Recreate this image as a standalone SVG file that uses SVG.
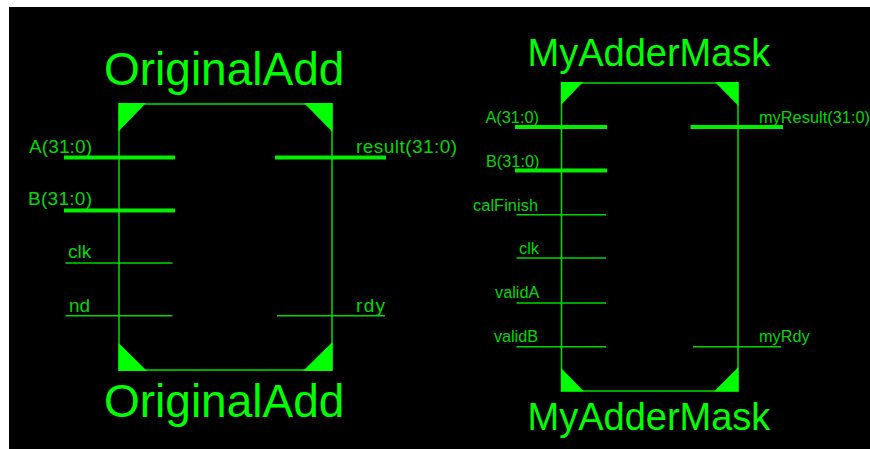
<svg xmlns="http://www.w3.org/2000/svg" width="870" height="449" viewBox="0 0 870 449">
<style>
text{font-family:"Liberation Sans",Arial,sans-serif;fill:#00d800}
.t1{font-size:46px;fill:#00ff00}
.t2{font-size:38px;fill:#00ff00}
.s1{font-size:19px}
.s2{font-size:16.3px}
.box{fill:none;stroke:#00e000;stroke-width:1.5}
.c{fill:#00ff00}
.bus{stroke:#00f000;stroke-width:4;fill:none}
.wire{stroke:#00d800;stroke-width:1.5;fill:none}
</style>
<rect x="0" y="0" width="870" height="449" fill="#fff"/>
<rect x="9" y="7" width="861" height="442" fill="#000"/>
<g id="original-add">
<rect class="box" x="119" y="104" width="213" height="266"/>
<polygon class="c" points="118.5,103 146,103 118.5,131.500"/>
<polygon class="c" points="332.500,103 304,103 332.500,132"/>
<polygon class="c" points="118.500,343 147,371 118.500,371"/>
<polygon class="c" points="332.500,342 303,371 332.500,371"/>
<text class="t1" x="104" y="85">OriginalAdd</text>
<text class="t1" x="104" y="417">OriginalAdd</text>
<text class="s1" x="29" y="153" textLength="63">A(31:0)</text>
<text class="s1" x="28" y="205" textLength="64">B(31:0)</text>
<text class="s1" x="68" y="258">clk</text>
<text class="s1" x="69" y="312" textLength="21">nd</text>
<text class="s1" x="356" y="153" textLength="101">result(31:0)</text>
<text class="s1" x="356" y="312" textLength="29">rdy</text>
</g>
<g id="my-adder-mask">
<rect class="box" x="561.500" y="83" width="176.500" height="308"/>
<polygon class="c" points="561,82 583,82 561,105"/>
<polygon class="c" points="738.500,82 715,82 738.500,106"/>
<polygon class="c" points="561,368 584,391.500 561,391.500"/>
<polygon class="c" points="738.500,367 714,391.500 738.500,391.500"/>
<text class="t2" x="527.500" y="66">MyAdderMask</text>
<text class="t2" x="527.500" y="430">MyAdderMask</text>
<text class="s2" x="485.500" y="122.500">A(31:0)</text>
<text class="s2" x="486" y="167">B(31:0)</text>
<text class="s2" x="473" y="211" textLength="65">calFinish</text>
<text class="s2" x="519" y="254">clk</text>
<text class="s2" x="495" y="298">validA</text>
<text class="s2" x="494" y="342" textLength="44">validB</text>
<text class="s2" x="759" y="122.500" textLength="111">myResult(31:0)</text>
<text class="s2" x="759" y="342">myRdy</text>
</g>
<g id="connectors">
<path class="bus" d="M64 157.500H175M64 210.500H175M275 157.500H386M515 127H607M515 170.500H607M690.500 127H783"/>
<path class="wire" d="M65.500 263H172.500M65.500 315.700H172.500M277 315.700H385M516.500 214.700H606M516.500 258H606M516.500 303H606M516.500 346.700H606M693 346.700H781"/>
</g>
</svg>
